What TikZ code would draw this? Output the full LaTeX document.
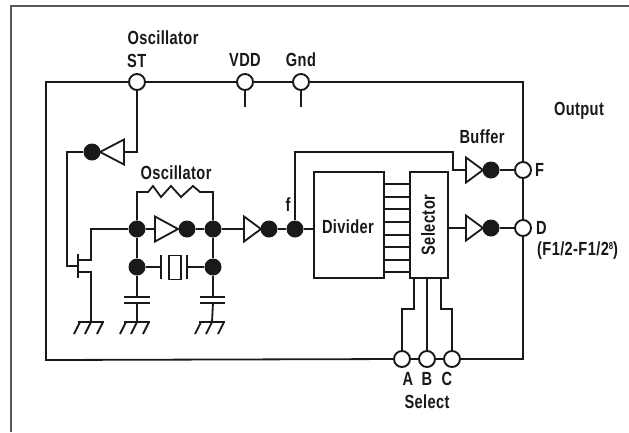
\documentclass[tikz,border=0pt]{standalone}
\usepackage{fontspec}
\setmainfont[FakeStretch=0.77,LetterSpace=2]{Liberation Sans}
\newcommand{\invgate}[4]{% name, flat x, y, tip x
  \draw[wire,line join=miter] (#2,#3-12.5) -- (#4,#3) -- (#2,#3+12.5) -- cycle;
  \coordinate (#1) at (#2,#3);}
\newcommand{\gndsym}[1]{% coordinate name
  \draw[wire] ([xshift=-13pt]#1) -- ([xshift=13pt]#1);
  \foreach \d in {-11,0,12} {\draw[wire] ([xshift=\d pt]#1) -- ++(-6,12);}}
\tikzset{
  wire/.style={line width=1.8pt,black!90},
  jn/.style={circle,fill=black!90,draw=none,minimum size=17pt,inner sep=0pt},
  pad/.style={circle,fill=white,draw=black!90,line width=1.9pt,minimum size=16pt,inner sep=0pt},
  blockbox/.style={draw=black!90,line width=1.8pt,inner sep=0pt,anchor=north west},
  lab/.style={inner sep=0pt,font=\fontsize{19}{19}\selectfont\bfseries,text=black!90},
  frameline/.style={line width=1.5pt,black!65}
}
\begin{document}
\begin{tikzpicture}[x=1pt,y=-1pt]
\useasboundingbox (0,0) rectangle (629,432);
\fill[white] (0,0) rectangle (629,432);
\coordinate (fa) at (11,432); \coordinate (fb) at (11,6); \coordinate (fc) at (629,6);
\draw[frameline] (fa) -- (fb) -- (fc);

% pads
\node[pad] (st) at (137,82) {};
\node[pad] (vdd) at (245,82) {};
\node[pad] (gnd) at (301,82) {};
\node[pad] (F) at (523,170) {};
\node[pad] (D) at (523,228) {};
\node[pad] (A) at (402,359) {};
\node[pad] (B) at (427,359) {};
\node[pad] (C) at (452,359) {};
% outer loop
\coordinate (tl) at (46,82); \coordinate (bl) at (46,360);
\coordinate (tr) at (523,82); \coordinate (br) at (523,359);
\draw[wire] (st) -- (tl) -- (bl) -- (A);
\draw[wire] (st) -- (vdd); \draw[wire] (vdd) -- (gnd);
\draw[wire] (gnd) -- (tr) -- (F);
\draw[wire] (F) -- (D); \draw[wire] (D) -- (br) -- (C);
\draw[wire] (A) -- (B); \draw[wire] (B) -- (C);
\coordinate (vs) at (245,107); \coordinate (gs) at (301,107);
\draw[wire] (vdd) -- (vs); \draw[wire] (gnd) -- (gs);

% oscillator stop inverter
\invgate{i0}{124}{152}{100}
\node[jn] (j0) at (92,152) {};
\draw[wire] (st) |- (i0);
\coordinate (g0) at (67,152); \coordinate (g1) at (67,266); \coordinate (gate) at (78,266);
\draw[wire] (j0) -- (g0) -- (g1) -- (gate);
% FET
\coordinate (c1) at (78,254); \coordinate (c2) at (78,278);
\draw[wire] (c1) -- (c2);
\coordinate (dr0) at (78,260); \coordinate (dr1) at (91,260); \coordinate (dr2) at (91,229);
\coordinate (so0) at (78,272); \coordinate (so1) at (91,272); \coordinate (gA) at (91,322);
\node[jn] (n1) at (137,229) {};
\node[jn] (n2) at (137,267) {};
\node[jn] (n3) at (213,229) {};
\node[jn] (n4) at (213,267) {};
\draw[wire] (dr0) -- (dr1) -- (dr2) -- (n1);
\draw[wire] (so0) -- (so1) -- (gA);
\gndsym{gA}

% feedback resistor
\coordinate (rtl) at (137,192); \coordinate (rtr) at (213,192);
\draw[wire,line join=miter] (n1) -- (rtl) -- (148,192) -- (153,186) -- (161,197) -- (171,186) -- (181,197) -- (193,186) -- (200,192) -- (rtr) -- (n3);

% oscillator inverter
\invgate{i1}{155}{229}{178}
\node[jn] (j1) at (187,229) {};
\draw[wire] (n1) -- (i1);
\draw[wire] (j1) -- (n3);
\draw[wire] (n1) -- (n2); \draw[wire] (n3) -- (n4);

% crystal
\coordinate (p1t) at (161,255); \coordinate (p1b) at (161,279);
\coordinate (p2t) at (187,255); \coordinate (p2b) at (187,279);
\coordinate (p1) at (161,267); \coordinate (p2) at (187,267);
\draw[wire] (p1t) -- (p1b); \draw[wire] (p2t) -- (p2b);
\node[blockbox,minimum width=12pt,minimum height=24pt] (xtal) at (168,254.5) {};
\draw[wire] (n2) -- (p1); \draw[wire] (n4) -- (p2);

% capacitors
\coordinate (cLa) at (137,297); \coordinate (cLb) at (137,303); \coordinate (gB) at (137,322);
\coordinate (cRa) at (213,297); \coordinate (cRb) at (213,303); \coordinate (gC) at (212,322);
\draw[wire] (n2) -- (cLa); \draw[wire] (cLb) -- (gB);
\draw[wire] (n4) -- (cRa); \draw[wire] (cRb) -- (gC);
\draw[wire] (124,297) -- (150,297); \draw[wire] (124,303) -- (150,303);
\draw[wire] (200,297) -- (225,297); \draw[wire] (200,303) -- (225,303);
\gndsym{gB}
\gndsym{gC}

% second inverter to f
\invgate{i2}{244}{229}{261}
\node[jn] (j2) at (269,229) {};
\node[jn] (f) at (295,229) {};
\draw[wire] (n3) -- (i2);
\draw[wire] (j2) -- (f);

% divider, selector
\node[blockbox,minimum width=70pt,minimum height=106pt] (div) at (313,171) {};
\node[blockbox,minimum width=38pt,minimum height=106pt] (sel) at (409,171) {};
\draw[wire] (f) -- (div.west |- f);
\foreach \y in {184,197,209,222,235,247,260,272} {\draw[wire] (div.east |- 0,\y) -- (sel.west |- 0,\y);}
\node[lab] (tdiv) at (348,227) {Divider};
\node[lab,rotate=90] (tsel) at (428,225) {Selector};

% buffers
\invgate{i3}{466}{170}{483}
\node[jn] (j3) at (491,170) {};
\coordinate (u1) at (295,152); \coordinate (u2) at (453,152); \coordinate (u3) at (453,170);
\draw[wire] (f) -- (u1) -- (u2) -- (u3) -- (i3);
\draw[wire] (j3) -- (F);
\invgate{i4}{466}{228}{483}
\node[jn] (j4) at (491,228) {};
\draw[wire] (sel.east |- i4) -- (i4);
\draw[wire] (j4) -- (D);

% select lines
\coordinate (a0) at (414,277); \coordinate (a1) at (414,309); \coordinate (a2) at (402,309);
\coordinate (b0) at (427,277);
\coordinate (c0) at (441,277); \coordinate (c3) at (441,309); \coordinate (c4) at (452,309);
\draw[wire] (a0) -- (a1) -- (a2) -- (A);
\draw[wire] (b0) -- (B);
\draw[wire] (c0) -- (c3) -- (c4) -- (C);

% labels
\node[lab] (t1) at (163,38) {Oscillator};
\node[lab,anchor=west] (t2) at (127,61) {ST};
\node[lab] (t3) at (245,60) {VDD};
\node[lab] (t4) at (301,60) {Gnd};
\node[lab] (t5) at (176,173) {Oscillator};
\node[lab] (t6) at (482,137) {Buffer};
\node[lab] (t7) at (579,111) {Output};
\node[lab] (t8) at (288,205) {f};
\node[lab,anchor=west] (t9) at (535,170) {F};
\node[lab,anchor=west] (t10) at (536,228) {D};
\node[lab,anchor=west] (t11) at (537,251) {(F1/2-F1/2\raisebox{6pt}{\fontsize{10}{10}\selectfont 8})};
\node[lab] (t12) at (408,379) {A};
\node[lab] (t13) at (427,379) {B};
\node[lab] (t14) at (447,379) {C};
\node[lab] (t15) at (427,402) {Select};
\end{tikzpicture}
\end{document}
